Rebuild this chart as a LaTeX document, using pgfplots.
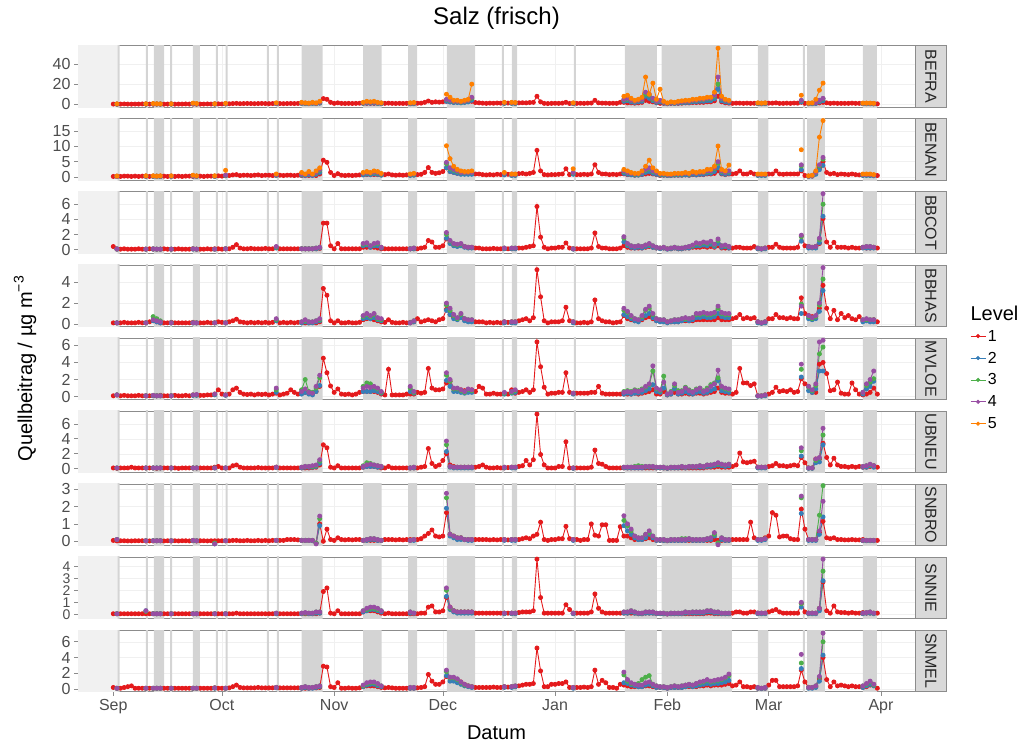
\documentclass[border=0pt]{standalone}
\usepackage{pgfplots}
\pgfplotsset{compat=1.18}
\usepackage{pgfplotstable}
\usepackage{fontspec}
\setmainfont{Liberation Sans}
\definecolor{c1}{HTML}{E41A1C}
\definecolor{c2}{HTML}{377EB8}
\definecolor{c3}{HTML}{4DAF4A}
\definecolor{c4}{HTML}{984EA3}
\definecolor{c5}{HTML}{FF7F00}
\definecolor{bandgray}{HTML}{D4D4D4}
\definecolor{leftgray}{HTML}{F1F1F1}
\definecolor{stripgray}{HTML}{D9D9D9}
\definecolor{bordergray}{HTML}{8C8C8C}
\definecolor{ticktext}{HTML}{4D4D4D}
\newcommand\fs[1]{\fontsize{#1}{#1}\selectfont}

\pgfplotstableread{
x y
1.2 -100
1.2 100
1.75 100
1.75 -100
nan nan
9.0 -100
9.0 100
9.55 100
9.55 -100
nan nan
11.2 -100
11.2 100
14.0 100
14.0 -100
nan nan
15.7 -100
15.7 100
16.25 100
16.25 -100
nan nan
22.0 -100
22.0 100
23.9 100
23.9 -100
nan nan
28.3 -100
28.3 100
28.85 100
28.85 -100
nan nan
31.0 -100
31.0 100
31.55 100
31.55 -100
nan nan
42.4 -100
42.4 100
42.95 100
42.95 -100
nan nan
45.2 -100
45.2 100
45.75 100
45.75 -100
nan nan
52.0 -100
52.0 100
57.8 100
57.8 -100
nan nan
69.0 -100
69.0 100
74.1 100
74.1 -100
nan nan
81.4 -100
81.4 100
83.9 100
83.9 -100
nan nan
92.1 -100
92.1 100
99.9 100
99.9 -100
nan nan
107.3 -100
107.3 100
107.85 100
107.85 -100
nan nan
110.1 -100
110.1 100
111.5 100
111.5 -100
nan nan
127.2 -100
127.2 100
127.75 100
127.75 -100
nan nan
141.3 -100
141.3 100
150.1 100
150.1 -100
nan nan
151.4 -100
151.4 100
170.8 100
170.8 -100
nan nan
178.0 -100
178.0 100
180.8 100
180.8 -100
nan nan
190.4 -100
190.4 100
190.95 100
190.95 -100
nan nan
191.6 -100
191.6 100
196.5 100
196.5 -100
nan nan
207.0 -100
207.0 100
210.9 100
210.9 -100
}\bandtab

\pgfplotstableread{
d A B C D E F G H I
0 0.3 0.2 0.4 0.1 0.1 0.1 0.05 0.05 0.2
1 0.2 0.3 0.05 0.1 0.2 0.05 0.02 0.05 0.1
2 0.3 0.2 0.05 0.1 0.1 0.1 0.03 0.05 0.1
3 0.4 0.3 0.1 0.15 0.15 0.1 0.03 0.05 0.2
4 0.3 0.3 0.05 0.1 0.1 0.1 0.02 0.05 0.3
5 0.2 0.2 0.05 0.1 0.1 0.2 0.02 0.05 0.4
6 0.3 0.3 0.05 0.1 0.1 0.1 0.03 0.05 0.1
7 0.3 0.2 0.1 0.15 0.15 0.1 0.03 0.05 0.1
8 0.4 0.3 0.05 0.1 0.1 0.1 0.03 0.05 0.1
9 0.3 0.3 0.05 0.1 0.1 0.1 0.02 0.05 0.1
10 0.3 0.2 0.1 0.2 0.1 0.1 0.02 0.05 0.1
11 0.2 0.3 0.05 0.3 0.1 0.1 0.02 0.05 0.1
12 0.3 0.3 0.05 0.2 0.1 0.05 0.03 0.05 0.1
13 0.3 0.2 0.05 0.1 0.15 0.1 0.03 0.05 0.1
14 0.2 0.3 0.1 0.1 0.1 0.1 0.02 0.05 0.1
15 0.3 0.2 0.05 0.1 0.1 0.1 0.03 0.05 0.1
16 0.3 0.3 0.05 0.15 0.1 0.1 0.02 0.05 0.1
17 0.2 0.2 0.05 0.1 0.15 0.1 0.03 0.05 0.1
18 0.3 0.3 0.1 0.1 0.1 0.05 0.02 0.05 0.1
19 0.3 0.2 0.05 0.1 0.1 0.1 0.03 0.05 0.1
20 0.4 0.3 0.05 0.1 0.15 0.1 0.03 0.05 0.1
21 0.3 0.3 0.05 0.1 0.1 0.1 0.02 0.05 0.1
22 0.3 0.2 0.1 0.15 0.2 0.1 0.03 0.05 0.1
23 0.2 0.3 0.05 0.1 0.2 0.1 0.02 0.05 0.1
24 0.3 0.3 0.05 0.1 0.15 0.1 0.03 0.05 0.1
25 0.3 0.2 0.05 0.1 0.15 0.1 0.03 0.05 0.1
26 0.4 0.3 0.1 0.15 0.2 0.1 0.02 0.05 0.1
27 0.3 0.3 0.05 0.1 0.2 0.1 0.03 0.05 0.1
28 0.4 0.3 0.1 0.1 0.3 0.2 0.03 0.05 0.15
29 0.5 0.4 0.1 0.2 0.8 0.3 0.03 0.05 0.1
30 0.4 0.3 0.05 0.15 0.3 0.1 0.03 0.05 0.1
31 0.6 0.6 0.1 0.1 0.2 0.1 0.03 0.05 0.1
32 0.6 0.5 0.1 0.2 0.3 0.1 0.03 0.05 0.15
33 0.8 0.7 0.3 0.3 0.8 0.4 0.05 0.05 0.3
34 1.0 0.8 0.65 0.45 1.0 0.5 0.05 0.1 0.5
35 0.7 0.5 0.2 0.2 0.5 0.2 0.03 0.05 0.2
36 0.8 0.6 0.1 0.15 0.3 0.1 0.03 0.05 0.15
37 0.9 0.6 0.1 0.1 0.25 0.1 0.05 0.05 0.15
38 0.8 0.5 0.15 0.15 0.3 0.1 0.03 0.05 0.15
39 0.7 0.6 0.1 0.1 0.2 0.1 0.03 0.05 0.15
40 0.8 0.7 0.1 0.15 0.3 0.15 0.05 0.05 0.2
41 0.9 0.5 0.1 0.1 0.25 0.1 0.03 0.05 0.15
42 0.8 0.6 0.15 0.15 0.3 0.1 0.05 0.05 0.15
43 0.7 0.6 0.1 0.1 0.2 0.1 0.03 0.05 0.15
44 0.8 0.5 0.1 0.15 0.3 0.1 0.05 0.05 0.15
45 0.9 0.7 0.3 0.3 0.4 0.2 0.05 0.05 0.2
46 0.8 0.6 0.1 0.1 0.2 0.1 0.05 0.05 0.15
47 0.7 0.5 0.1 0.15 0.3 0.1 0.05 0.05 0.15
48 0.8 0.6 0.1 0.1 0.4 0.1 0.1 0.05 0.15
49 0.9 0.6 0.1 0.15 0.8 0.1 0.1 0.05 0.15
50 0.8 0.5 0.1 0.1 0.5 0.1 0.1 0.05 0.15
51 0.9 0.6 0.1 0.15 0.3 0.1 0.08 0.05 0.15
52 1.0 0.5 0.1 0.1 0.4 0.1 0.05 0.05 0.1
53 1.0 0.5 0.1 0.1 0.5 0.1 0.05 0.05 0.1
54 1.0 0.5 0.1 0.1 0.4 0.1 0.05 0.05 0.1
55 1.2 0.6 0.1 0.15 0.4 0.15 0.05 0.05 0.15
56 1.0 0.5 0.1 0.1 0.6 0.2 -0.1 0.05 0.15
57 1.5 1.0 0.15 0.2 1.2 0.5 1.0 0.1 0.2
58 5.7 5.5 3.5 3.4 4.5 3.2 0.0 1.9 2.9
59 5.0 4.8 3.5 2.75 2.8 2.8 0.7 2.2 2.8
60 2.0 1.5 0.5 0.3 1.25 0.2 0.1 0.1 0.3
61 1.0 0.5 0.1 0.1 0.5 0.1 0.05 0.05 0.2
62 1.5 1.1 0.8 0.3 0.9 0.4 0.2 0.3 0.8
63 1.0 0.6 0.1 0.1 0.3 0.1 0.1 0.05 0.1
64 0.9 0.5 0.1 0.1 0.25 0.1 0.08 0.05 0.1
65 1.0 0.6 0.1 0.15 0.3 0.1 0.1 0.05 0.15
66 0.9 0.5 0.1 0.1 0.2 0.1 0.08 0.05 0.1
67 1.0 0.6 0.1 0.1 0.3 0.1 0.1 0.05 0.1
68 1.1 0.7 0.1 0.15 0.5 0.1 0.1 0.05 0.15
69 1.0 0.8 0.3 0.4 0.6 0.2 0.05 0.2 0.3
70 1.0 0.8 0.3 0.5 0.6 0.3 0.05 0.3 0.4
71 1.0 0.8 0.3 0.5 0.6 0.3 0.05 0.3 0.4
72 1.0 0.8 0.3 0.4 0.6 0.3 0.05 0.3 0.4
73 1.0 0.8 0.2 0.3 0.5 0.2 0.05 0.2 0.3
74 0.9 0.7 0.1 0.2 0.3 0.1 0.05 0.1 0.2
75 1.0 0.8 0.1 0.15 0.2 0.1 0.1 0.05 0.15
76 1.2 1.0 0.1 0.4 3.2 0.3 0.1 0.1 0.2
77 1.0 0.7 0.1 0.15 0.2 0.1 0.1 0.05 0.15
78 0.9 0.6 0.1 0.1 0.2 0.1 0.08 0.05 0.1
79 1.0 0.7 0.1 0.1 0.2 0.1 0.1 0.05 0.1
80 0.9 0.6 0.1 0.15 0.2 0.1 0.08 0.05 0.1
81 1.0 0.7 0.1 0.1 0.3 0.1 0.1 0.05 0.1
82 1.0 0.7 0.1 0.15 0.3 0.1 0.1 0.05 0.1
83 1.0 0.7 0.1 0.2 0.3 0.1 0.1 0.05 0.1
84 1.1 0.8 0.1 0.5 0.5 0.1 0.1 0.05 0.15
85 1.2 0.9 0.2 0.2 0.4 0.2 0.15 0.1 0.2
86 2.0 1.5 0.3 0.3 0.5 0.3 0.3 0.1 0.3
87 3.3 3.1 1.2 0.4 3.3 2.7 0.45 0.6 1.85
88 2.0 1.5 1.0 0.3 1.0 0.7 0.65 0.7 1.0
89 2.5 1.2 0.3 0.2 0.8 0.3 0.3 0.2 0.6
90 2.2 1.4 0.3 0.4 0.8 0.5 0.25 0.2 0.6
91 2.5 1.8 0.5 0.5 0.9 1.1 0.3 0.3 0.9
92 3.0 3.0 1.4 1.4 1.6 2.0 1.65 1.4 1.6
93 2.5 1.8 0.9 0.9 1.8 0.5 0.4 0.6 1.4
94 2.0 1.5 0.6 0.6 0.9 0.3 0.3 0.3 1.3
95 2.2 1.2 0.5 0.5 0.8 0.2 0.2 0.2 1.0
96 2.0 1.3 0.6 0.7 0.8 0.2 0.2 0.2 0.9
97 2.5 1.5 0.4 0.4 0.7 0.2 0.1 0.2 0.6
98 2.8 1.3 0.3 0.3 0.6 0.2 0.1 0.2 0.4
99 3.0 1.4 0.3 0.3 0.8 0.2 0.1 0.2 0.3
100 1.8 1.0 0.2 0.2 0.6 0.2 0.1 0.1 0.2
101 1.5 1.0 0.2 0.2 1.2 0.3 0.1 0.1 0.2
102 1.2 0.8 0.1 0.2 1.0 0.5 0.1 0.1 0.2
103 1.0 0.7 0.1 0.1 0.3 0.2 0.1 0.1 0.2
104 1.2 0.8 0.1 0.15 0.3 0.1 0.08 0.1 0.2
105 1.1 0.7 0.15 0.1 0.4 0.1 0.1 0.1 0.25
106 1.3 0.9 0.1 0.15 0.3 0.15 0.08 0.1 0.2
107 1.2 0.8 0.1 0.1 0.3 0.1 0.1 0.1 0.2
108 1.4 1.0 0.15 0.2 0.4 0.1 0.1 0.1 0.3
109 1.3 0.9 0.1 0.15 0.3 0.15 0.08 0.1 0.25
110 1.5 1.0 0.1 0.2 0.8 0.2 0.1 0.1 0.3
111 1.4 0.9 0.15 0.2 0.4 0.15 0.1 0.1 0.3
112 1.5 1.1 0.2 0.3 0.5 0.3 0.1 0.15 0.4
113 1.6 1.2 0.2 0.4 0.6 0.4 0.15 0.2 0.5
114 1.5 1.0 0.3 0.5 0.8 1.1 0.2 0.2 0.6
115 1.8 1.2 0.4 0.3 0.5 0.5 0.15 0.2 0.6
116 2.0 1.5 0.5 0.6 0.8 1.2 0.3 0.3 0.7
117 8.0 8.7 5.7 5.2 6.4 7.3 0.4 4.6 5.2
118 2.5 2.0 1.65 2.6 3.5 1.9 1.1 1.4 2.3
119 1.0 0.8 0.3 0.3 1.1 0.5 0.1 0.1 0.3
120 0.8 0.7 0.1 0.1 0.3 0.1 0.05 0.1 0.3
121 1.0 0.8 0.2 0.2 0.4 0.1 0.1 0.1 0.6
122 1.1 0.8 0.2 0.2 0.4 0.1 0.1 0.1 0.6
123 1.0 0.9 0.3 0.2 0.5 0.3 0.15 0.1 0.7
124 1.2 1.0 0.3 0.3 0.5 0.3 0.15 0.1 0.7
125 2.0 2.7 0.87 1.6 2.8 3.6 0.86 0.8 0.9
126 0.9 0.8 0.2 0.3 0.5 0.1 0.15 0.4 0.2
127 1.0 1.3 0.1 0.2 0.4 0.1 0.1 0.1 0.2
128 1.0 0.8 0.1 0.1 0.4 0.1 0.1 0.1 0.2
129 1.1 0.8 0.1 0.1 0.4 0.1 0.05 0.1 0.2
130 1.0 0.9 0.1 0.15 0.4 0.1 0.1 0.1 0.25
131 1.2 0.8 0.1 0.1 0.4 0.1 0.1 0.1 0.2
132 1.3 1.0 0.2 0.2 0.5 0.2 1.0 0.2 0.3
133 4.0 4.0 2.2 2.3 0.5 2.5 0.35 1.7 2.4
134 1.5 1.5 0.4 0.5 1.2 0.7 0.3 0.5 0.6
135 1.2 1.0 0.2 0.3 0.4 0.6 0.95 0.2 1.1
136 1.2 1.0 0.2 0.2 0.3 0.3 0.95 0.1 0.8
137 1.0 0.8 0.1 0.2 0.3 0.1 0.05 0.1 0.2
138 1.1 0.9 0.1 0.1 0.3 0.1 0.05 0.1 0.2
139 1.0 0.8 0.1 0.15 0.3 0.1 0.05 0.1 0.1
140 2.0 1.0 0.2 0.2 0.3 0.1 0.84 0.1 0.6
141 2.0 1.0 0.5 0.8 0.3 0.1 0.3 0.1 0.5
142 1.5 0.8 0.3 0.5 0.3 0.1 0.3 0.1 0.4
143 1.5 0.8 0.2 0.4 0.3 0.1 0.2 0.1 0.3
144 1.2 0.6 0.2 0.3 0.4 0.1 0.1 0.1 0.3
145 1.5 0.7 0.2 0.3 0.3 0.1 0.1 0.05 0.3
146 2.0 0.8 0.2 0.4 0.4 0.1 0.1 0.05 0.3
147 4.0 1.0 0.3 0.6 0.5 0.1 0.15 0.1 0.4
148 3.0 1.2 0.4 0.7 0.6 0.1 0.2 0.1 0.4
149 2.5 1.0 0.3 0.5 0.8 0.1 0.1 0.1 0.3
150 1.5 0.8 0.2 0.3 0.3 0.1 0.05 0.05 0.2
151 1.0 0.5 0.2 0.3 0.3 0.1 0.05 0.05 0.2
152 1.0 0.6 0.2 0.3 0.6 0.1 0.05 0.05 0.2
153 0.8 0.5 0.1 0.2 0.2 0.05 0.03 0.03 0.1
154 1.0 0.5 0.1 0.2 0.3 0.1 0.05 0.05 0.2
155 1.0 0.6 0.2 0.2 0.5 0.1 0.05 0.05 0.2
156 1.0 0.6 0.1 0.2 0.3 0.1 0.05 0.05 0.2
157 1.2 0.6 0.1 0.3 0.3 0.1 0.05 0.05 0.2
158 1.5 0.7 0.2 0.3 0.4 0.1 0.05 0.05 0.3
159 1.5 0.6 0.2 0.3 0.3 0.1 0.05 0.05 0.3
160 1.8 0.8 0.3 0.3 0.3 0.1 0.05 0.05 0.3
161 1.8 0.7 0.3 0.4 0.4 0.1 0.05 0.05 0.3
162 2.0 0.8 0.3 0.4 0.4 0.1 0.05 0.05 0.4
163 2.0 0.8 0.4 0.4 0.3 0.1 0.05 0.05 0.4
164 2.5 1.0 0.3 0.4 0.4 0.2 0.05 0.1 0.5
165 2.5 1.0 0.4 0.4 0.5 0.2 0.05 0.1 0.4
166 3.5 1.2 0.3 0.4 0.6 0.2 0.1 0.05 0.5
167 8.0 2.0 0.5 0.6 1.0 0.3 0.05 0.05 0.5
168 2.5 1.0 0.2 0.4 0.5 0.2 0.05 0.05 0.5
169 1.5 0.8 0.2 0.4 0.4 0.2 0.05 0.05 0.6
170 1.2 1.0 0.2 0.4 0.4 0.2 0.05 0.05 0.7
171 1.0 1.0 0.2 0.5 0.3 0.3 0.1 0.1 0.4
172 1.2 1.2 0.3 0.6 0.5 0.5 0.1 0.2 0.5
173 1.2 2.0 0.3 0.9 3.3 2.1 0.1 0.2 0.9
174 1.0 1.0 0.2 0.5 1.6 0.9 0.1 0.1 0.3
175 1.2 1.0 0.2 0.6 1.6 0.8 0.1 0.1 0.3
176 1.0 1.5 0.2 0.5 1.3 0.9 1.1 0.2 0.2
177 1.1 1.0 0.4 0.6 1.5 1.0 0.2 0.2 0.3
178 1.0 0.8 0.1 0.2 0.1 0.2 0.1 0.1 0.1
179 1.0 0.8 0.1 0.1 0.1 0.2 0.1 0.1 0.1
180 1.1 0.8 0.2 0.2 0.2 0.2 0.2 0.1 0.1
181 1.2 1.0 0.3 0.5 0.3 0.3 0.3 0.2 0.5
182 1.2 1.0 0.3 0.5 0.5 0.4 1.65 0.3 1.1
183 1.5 2.0 0.7 0.9 1.1 0.7 1.5 0.4 1.1
184 1.0 1.0 0.3 0.6 0.6 0.4 0.25 0.2 0.3
185 1.0 0.9 0.2 0.6 0.7 0.4 0.3 0.1 0.3
186 1.2 1.0 0.2 0.5 0.6 0.3 0.3 0.1 0.3
187 1.0 1.0 0.2 0.6 0.8 0.4 0.15 0.1 0.3
188 1.3 1.0 0.2 0.5 0.5 0.5 0.1 0.1 0.3
189 1.2 1.0 0.3 0.5 0.6 0.4 0.1 0.1 0.4
190 2.0 2.0 1.8 2.5 2.1 1.5 1.85 0.9 2.4
191 1.0 0.5 0.5 1.0 1.5 0.8 0.7 0.2 0.9
192 1.0 0.3 0.4 0.8 1.2 0.1 0.1 0.1 0.2
193 1.0 0.3 0.3 0.7 0.5 0.1 0.1 0.1 0.2
194 1.0 1.5 0.4 0.7 0.5 1.3 0.1 0.1 0.3
195 1.5 3.0 0.8 1.5 3.8 1.3 0.5 0.5 1.3
196 2.0 5.0 4.1 3.7 4.0 3.4 1.15 2.7 4.0
197 1.5 1.5 1.0 1.5 2.7 1.5 0.2 0.3 1.2
198 1.0 1.0 0.3 0.5 0.7 0.5 0.15 0.1 0.3
199 1.2 1.2 0.95 1.3 0.8 1.4 0.2 0.7 0.9
200 1.0 0.8 0.3 0.4 1.7 0.5 0.1 0.2 0.4
201 1.0 1.0 0.3 1.0 0.4 0.3 0.1 0.15 0.5
202 1.0 0.9 0.3 0.6 0.3 0.3 0.08 0.15 0.4
203 1.0 0.8 0.2 0.8 0.3 0.2 0.08 0.1 0.3
204 1.2 1.0 0.3 0.5 1.6 0.3 0.1 0.15 0.4
205 1.0 0.8 0.2 0.4 0.8 0.2 0.08 0.1 0.3
206 1.0 0.7 0.2 0.7 0.3 0.3 0.08 0.1 0.3
207 1.0 0.8 0.3 0.3 0.2 0.2 0.1 0.15 0.2
208 1.0 0.7 0.2 0.4 0.3 0.2 0.05 0.1 0.3
209 0.8 0.6 0.2 0.3 0.5 0.3 0.05 0.1 0.5
210 0.8 0.6 0.3 0.4 1.0 0.4 0.05 0.1 0.6
211 0.5 0.5 0.2 0.2 0.3 0.2 0.05 0.1 0.1
}\redtab

\pgfplotstableread{
d A B C D E F G H I
1 0.2 0.2 0.05 0.1 0.2 0.1 0.1 0.05 0.1
nan nan nan nan nan nan nan nan nan nan
9 0.3 0.2 0.05 0.1 0.1 0.1 0.03 0.3 0.1
nan nan nan nan nan nan nan nan nan nan
11 0.4 0.2 0.05 0.3 0.1 0.1 0.03 0.05 0.1
12 0.3 0.2 0.05 0.2 0.1 0.1 0.03 0.05 0.1
13 0.3 0.2 0.05 0.1 0.1 0.1 0.03 0.05 0.1
nan nan nan nan nan nan nan nan nan nan
16 0.3 0.2 0.05 0.1 0.1 0.1 0.03 0.05 0.1
nan nan nan nan nan nan nan nan nan nan
22 0.5 0.3 0.05 0.1 0.15 0.1 0.03 0.05 0.1
23 0.4 0.2 0.05 0.1 0.15 0.1 0.03 0.05 0.1
nan nan nan nan nan nan nan nan nan nan
28 0.3 0.2 0.05 0.1 0.2 0.1 -0.15 0.05 0.1
nan nan nan nan nan nan nan nan nan nan
31 0.5 0.4 0.1 0.1 0.15 0.1 0.03 0.05 0.1
nan nan nan nan nan nan nan nan nan nan
45 0.6 0.5 0.2 0.3 0.5 0.15 0.05 0.05 0.15
nan nan nan nan nan nan nan nan nan nan
52 1.0 0.6 0.1 0.1 0.3 0.1 0.05 0.05 0.1
53 0.8 0.5 0.1 0.2 0.5 0.2 0.05 0.1 0.2
54 0.7 0.7 0.1 0.1 0.3 0.2 0.05 0.05 0.1
55 1.0 0.5 0.1 0.1 0.2 0.2 0.03 0.05 0.1
56 0.7 0.9 0.1 0.2 0.6 0.3 -0.1 0.1 0.2
57 1.2 1.5 0.2 0.3 1.3 0.7 0.9 0.1 0.3
nan nan nan nan nan nan nan nan nan nan
69 1.0 0.7 0.5 0.5 0.6 0.2 0.05 0.2 0.3
70 1.2 0.9 0.6 0.6 0.6 0.3 0.05 0.3 0.5
71 1.1 0.8 0.3 0.5 0.6 0.3 0.1 0.4 0.6
72 1.2 1.0 0.5 0.6 0.7 0.3 0.1 0.4 0.6
73 0.9 0.9 0.5 0.4 0.6 0.2 0.05 0.3 0.4
74 0.7 0.6 0.2 0.3 0.4 0.2 0.05 0.2 0.3
nan nan nan nan nan nan nan nan nan nan
82 0.6 0.5 0.1 0.1 0.6 0.1 0.05 0.1 0.1
83 0.7 0.6 0.1 0.2 0.4 0.1 0.05 0.1 0.1
nan nan nan nan nan nan nan nan nan nan
92 3.0 3.0 1.5 1.3 1.9 2.3 1.9 1.5 1.7
93 2.4 1.8 0.8 0.9 1.2 0.2 0.3 0.4 1.0
94 1.8 1.5 0.5 0.5 0.6 0.1 0.2 0.2 1.0
95 1.8 1.2 0.4 0.4 0.6 0.1 0.1 0.1 0.8
96 1.5 0.9 0.5 0.6 0.5 0.1 0.1 0.1 0.6
97 1.8 0.9 0.3 0.3 0.4 0.1 0.1 0.1 0.4
98 2.4 0.9 0.2 0.2 0.5 0.1 0.05 0.1 0.3
99 4.0 0.9 0.2 0.2 0.5 0.1 0.05 0.1 0.2
nan nan nan nan nan nan nan nan nan nan
108 0.9 0.7 0.1 0.1 0.3 0.1 0.05 0.05 0.2
nan nan nan nan nan nan nan nan nan nan
110 0.9 0.5 0.1 0.1 0.4 0.1 0.05 0.05 0.2
111 0.8 0.5 0.1 0.1 0.5 0.1 0.05 0.05 0.3
nan nan nan nan nan nan nan nan nan nan
127 0.7 0.9 0.05 0.1 0.3 0.05 0.05 0.05 0.1
nan nan nan nan nan nan nan nan nan nan
141 3.0 1.2 1.0 0.9 0.3 0.1 0.9 0.1 0.8
142 3.6 0.9 0.5 0.7 0.4 0.1 0.6 0.1 0.7
143 2.4 0.7 0.3 0.5 0.3 0.1 0.4 0.2 0.5
144 1.8 0.6 0.2 0.3 0.4 0.1 0.2 0.1 0.4
145 2.4 0.6 0.3 0.2 0.4 0.1 0.1 0.05 0.3
146 3.0 0.9 0.2 0.5 0.5 0.1 0.1 0.05 0.3
147 8.0 1.5 0.4 0.8 0.7 0.2 0.2 0.1 0.5
148 6.0 1.8 0.5 1.0 0.9 0.2 0.4 0.1 0.6
149 3.6 1.2 0.3 0.6 1.4 0.2 0.2 0.1 0.4
150 1.8 0.9 0.2 0.3 0.6 0.1 0.05 0.05 0.2
151 2.4 0.6 0.1 0.2 0.5 0.1 0.05 0.05 0.2
152 1.2 0.6 0.2 0.2 1.0 0.1 0.05 0.05 0.2
153 0.6 0.5 0.05 0.1 0.2 0.05 0.03 0.03 0.1
154 1.2 0.5 0.1 0.2 0.3 0.1 0.05 0.05 0.2
155 0.9 0.6 0.2 0.2 0.9 0.1 0.05 0.05 0.2
156 1.2 0.6 0.1 0.2 0.3 0.1 0.05 0.05 0.2
157 1.5 0.6 0.1 0.3 0.4 0.2 0.05 0.05 0.2
158 1.8 0.7 0.2 0.4 0.6 0.1 0.05 0.1 0.3
159 1.8 0.6 0.2 0.3 0.4 0.2 0.1 0.1 0.4
160 2.4 0.9 0.4 0.4 0.3 0.2 0.05 0.1 0.3
161 2.4 0.7 0.5 0.6 0.5 0.2 0.05 0.1 0.4
162 3.0 0.9 0.5 0.6 0.6 0.2 0.05 0.1 0.5
163 3.0 0.9 0.6 0.7 0.4 0.2 0.05 0.1 0.6
164 3.6 1.2 0.5 0.6 0.5 0.3 0.1 0.2 0.7
165 3.6 1.2 0.7 0.6 0.7 0.3 0.1 0.2 0.6
166 5.4 1.8 0.4 0.7 0.9 0.4 0.3 0.1 0.7
167 15 3.0 0.8 1.0 1.9 0.5 -0.1 0.1 0.7
168 3.6 1.2 0.3 0.7 0.7 0.4 0.1 0.05 0.8
169 2.4 0.9 0.4 0.6 0.6 0.3 0.05 0.05 0.9
170 1.8 1.2 0.2 0.6 0.5 0.4 0.05 0.05 1.1
nan nan nan nan nan nan nan nan nan nan
178 0.7 0.5 0.1 0.1 0.05 0.1 0.05 0.05 0.1
179 0.6 0.5 0.05 0.05 0.05 0.1 0.05 0.05 0.05
180 0.7 0.5 0.1 0.1 0.1 0.1 0.1 0.05 0.1
nan nan nan nan nan nan nan nan nan nan
190 2.4 2.4 1.1 1.0 2.3 1.7 1.6 0.6 2.6
nan nan nan nan nan nan nan nan nan nan
192 0.6 0.2 0.2 0.5 0.7 0.05 0.05 0.05 0.1
193 0.7 0.3 0.2 0.4 0.5 0.05 0.05 0.05 0.1
194 0.9 0.9 0.2 0.5 0.9 0.8 0.05 0.05 0.2
195 2.4 2.4 0.9 1.2 3.0 0.9 0.4 0.3 1.0
196 3.6 3.8 4.4 3.2 3.0 3.2 1.4 2.8 4.3
nan nan nan nan nan nan nan nan nan nan
207 0.6 0.5 0.2 0.2 0.3 0.2 0.03 0.05 0.2
208 0.6 0.5 0.2 0.3 0.9 0.2 0.03 0.1 0.4
209 0.6 0.5 0.2 0.2 1.2 0.4 0.03 0.1 0.6
210 0.5 0.4 0.2 0.2 1.8 0.2 0.03 0.05 0.4
}\ltwo

\pgfplotstableread{
d A B C D E F G H I
1 0.3 0.2 0.1 0.1 0.2 0.1 0.1 0.05 0.1
nan nan nan nan nan nan nan nan nan nan
9 0.4 0.3 0.05 0.1 0.1 0.1 0.03 0.25 0.1
nan nan nan nan nan nan nan nan nan nan
11 0.5 0.3 0.1 0.7 0.15 0.1 0.03 0.05 0.1
12 0.4 0.3 0.05 0.5 0.1 0.1 0.03 0.05 0.1
13 0.3 0.3 0.05 0.3 0.1 0.1 0.03 0.05 0.1
nan nan nan nan nan nan nan nan nan nan
16 0.3 0.3 0.05 0.1 0.1 0.1 0.03 0.05 0.1
nan nan nan nan nan nan nan nan nan nan
22 0.7 0.4 0.1 0.1 0.2 0.1 0.05 0.05 0.1
23 0.5 0.3 0.05 0.1 0.2 0.1 0.03 0.05 0.1
nan nan nan nan nan nan nan nan nan nan
28 0.4 0.3 0.05 0.1 0.3 0.1 -0.1 0.05 0.15
nan nan nan nan nan nan nan nan nan nan
31 0.6 0.5 0.1 0.1 0.2 0.1 0.03 0.05 0.1
nan nan nan nan nan nan nan nan nan nan
45 0.8 0.6 0.3 0.4 0.8 0.2 0.05 0.1 0.2
nan nan nan nan nan nan nan nan nan nan
52 1.3 0.9 0.1 0.2 0.8 0.2 0.05 0.1 0.2
53 1.1 0.8 0.1 0.3 2.0 0.3 0.05 0.1 0.3
54 0.9 1.0 0.1 0.2 0.6 0.3 0.05 0.1 0.2
55 1.3 0.8 0.1 0.2 0.5 0.3 0.05 0.1 0.2
56 0.9 1.3 0.2 0.3 1.0 0.4 -0.1 0.2 0.3
57 1.8 2.2 0.3 0.4 2.2 1.0 1.3 0.2 0.4
nan nan nan nan nan nan nan nan nan nan
69 1.3 1.1 0.7 0.7 1.2 0.4 0.05 0.3 0.4
70 1.8 1.3 0.8 0.9 1.6 0.8 0.1 0.4 0.7
71 1.6 1.2 0.5 0.7 1.5 0.7 0.15 0.5 0.8
72 1.8 1.4 0.7 0.9 1.1 0.5 0.15 0.5 0.8
73 1.3 1.3 0.8 0.5 0.9 0.4 0.1 0.4 0.6
74 1.1 0.9 0.3 0.4 0.5 0.3 0.05 0.3 0.4
nan nan nan nan nan nan nan nan nan nan
82 0.9 0.7 0.1 0.1 1.0 0.1 0.05 0.2 0.2
83 1.1 0.9 0.2 0.3 0.5 0.2 0.1 0.1 0.2
nan nan nan nan nan nan nan nan nan nan
92 4.5 4.3 2.0 1.8 2.5 3.2 2.5 2.0 2.2
93 3.6 2.7 1.1 1.3 1.8 0.3 0.4 0.5 1.4
94 2.7 2.2 0.7 0.8 0.9 0.2 0.3 0.3 1.4
95 2.7 1.8 0.6 0.5 0.9 0.2 0.2 0.2 1.2
96 2.2 1.4 0.7 0.9 0.7 0.2 0.2 0.2 0.8
97 2.7 1.4 0.4 0.5 0.5 0.2 0.1 0.2 0.5
98 3.6 1.4 0.3 0.4 0.8 0.2 0.1 0.2 0.4
99 6.0 1.4 0.3 0.4 0.7 0.2 0.1 0.2 0.3
nan nan nan nan nan nan nan nan nan nan
108 1.3 1.1 0.2 0.2 0.4 0.2 0.1 0.1 0.3
nan nan nan nan nan nan nan nan nan nan
110 1.3 0.7 0.2 0.2 0.5 0.2 0.1 0.1 0.3
111 1.2 0.7 0.2 0.2 0.7 0.2 0.1 0.1 0.4
nan nan nan nan nan nan nan nan nan nan
127 1.1 1.3 0.1 0.2 0.4 0.1 0.1 0.1 0.2
nan nan nan nan nan nan nan nan nan nan
141 4.5 1.8 1.5 1.3 0.6 0.2 1.2 0.2 1.8
142 5.0 1.4 0.7 1.1 0.7 0.2 0.9 0.2 1.0
143 3.6 1.1 0.5 0.7 0.6 0.2 0.6 0.3 0.7
144 2.7 0.9 0.4 0.5 0.8 0.3 0.3 0.2 0.6
145 3.6 0.9 0.5 0.4 0.7 0.4 0.2 0.1 0.7
146 4.5 1.4 0.4 0.7 0.9 0.3 0.2 0.1 1.2
147 10 2.2 0.6 1.3 1.1 0.3 0.4 0.2 1.5
148 9.0 2.7 0.7 1.5 1.4 0.3 0.5 0.2 1.7
149 5.0 1.8 0.5 0.9 3.0 0.3 0.3 0.2 0.6
150 2.7 1.4 0.3 0.5 0.9 0.2 0.1 0.1 0.4
151 3.6 0.9 0.2 0.4 0.7 0.2 0.1 0.1 0.3
152 1.8 0.9 0.3 0.4 2.4 0.2 0.1 0.1 0.3
153 0.9 0.7 0.1 0.2 0.3 0.1 0.05 0.05 0.2
154 1.8 0.7 0.2 0.3 0.6 0.2 0.1 0.1 0.3
155 1.4 0.9 0.3 0.4 1.3 0.2 0.1 0.1 0.4
156 1.8 0.9 0.2 0.4 0.7 0.2 0.1 0.1 0.3
157 2.2 0.9 0.2 0.5 0.7 0.3 0.15 0.1 0.4
158 2.7 1.1 0.3 0.5 1.1 0.2 0.15 0.2 0.5
159 2.7 0.9 0.4 0.5 0.8 0.3 0.15 0.15 0.6
160 3.6 1.4 0.5 0.6 0.6 0.3 0.1 0.2 0.5
161 3.6 1.1 0.8 0.9 0.9 0.3 0.1 0.2 0.7
162 4.5 1.4 0.7 0.9 1.0 0.4 0.1 0.2 0.8
163 4.5 1.4 0.9 1.0 0.7 0.3 0.1 0.2 0.9
164 5.4 1.8 0.8 0.9 1.0 0.5 0.15 0.3 1.1
165 5.4 1.8 1.0 0.9 1.4 0.5 0.2 0.3 0.9
166 8.0 2.7 0.6 1.0 1.6 0.6 0.4 0.2 1.0
167 20 4.5 1.2 1.5 2.2 0.7 -0.1 0.2 1.1
168 5.4 1.8 0.5 1.0 1.1 0.6 0.2 0.1 1.2
169 3.6 1.4 0.5 0.9 0.9 0.5 0.1 0.1 1.4
170 2.7 1.8 0.4 0.9 0.8 0.6 0.1 0.1 1.7
nan nan nan nan nan nan nan nan nan nan
178 1.1 0.7 0.2 0.2 0.1 0.2 0.1 0.1 0.2
179 0.9 0.7 0.1 0.1 0.1 0.2 0.1 0.1 0.1
180 1.1 0.7 0.2 0.2 0.2 0.2 0.15 0.1 0.2
nan nan nan nan nan nan nan nan nan nan
190 3.6 3.6 1.7 1.9 3.2 2.4 2.5 0.9 3.3
nan nan nan nan nan nan nan nan nan nan
192 0.9 0.3 0.4 0.7 1.1 0.1 0.1 0.1 0.2
193 1.1 0.5 0.3 0.5 0.7 0.1 0.1 0.1 0.2
194 1.4 1.4 0.4 0.7 1.3 1.1 0.1 0.1 0.4
195 3.6 3.6 1.3 1.8 5.0 1.4 1.5 0.5 1.5
196 5.4 5.8 6.0 4.3 5.8 4.5 3.2 3.6 6.0
nan nan nan nan nan nan nan nan nan nan
207 0.9 0.7 0.3 0.4 0.5 0.3 0.05 0.1 0.4
208 0.9 0.7 0.4 0.4 1.3 0.4 0.05 0.15 0.6
209 0.9 0.7 0.4 0.4 1.7 0.5 0.05 0.2 0.9
210 0.7 0.6 0.3 0.4 2.1 0.4 0.05 0.1 0.5
}\lthree

\pgfplotstableread{
d A B C D E F G H I
1 0.3 0.2 0.1 0.1 0.2 0.1 0.1 0.05 0.1
nan nan nan nan nan nan nan nan nan nan
9 0.4 0.3 0.05 0.1 0.1 0.1 0.03 0.3 0.1
nan nan nan nan nan nan nan nan nan nan
11 0.5 0.3 0.1 0.4 0.15 0.1 0.03 0.05 0.1
12 0.4 0.3 0.05 0.3 0.1 0.1 0.03 0.05 0.1
13 0.3 0.3 0.05 0.2 0.1 0.1 0.03 0.05 0.1
nan nan nan nan nan nan nan nan nan nan
16 0.4 0.3 0.05 0.1 0.1 0.1 0.03 0.05 0.1
nan nan nan nan nan nan nan nan nan nan
22 0.8 0.4 0.1 0.1 0.2 0.1 0.05 0.05 0.1
23 0.5 0.3 0.05 0.1 0.25 0.1 0.03 0.05 0.1
nan nan nan nan nan nan nan nan nan nan
28 0.4 0.3 0.05 0.1 0.3 0.1 -0.15 0.05 0.15
nan nan nan nan nan nan nan nan nan nan
31 0.6 0.6 0.1 0.1 0.2 0.1 0.03 0.05 0.1
nan nan nan nan nan nan nan nan nan nan
45 0.9 0.7 0.4 0.5 1.0 0.2 0.05 0.1 0.2
nan nan nan nan nan nan nan nan nan nan
52 1.5 1.0 0.1 0.2 0.6 0.2 0.05 0.1 0.2
53 1.2 0.8 0.1 0.4 0.9 0.3 0.05 0.15 0.3
54 1.0 1.2 0.1 0.2 0.5 0.3 0.05 0.1 0.2
55 1.5 0.8 0.1 0.2 0.4 0.4 0.05 0.1 0.2
56 1.0 1.5 0.2 0.3 1.2 0.5 -0.15 0.2 0.3
57 2.0 2.5 0.3 0.5 2.5 1.2 1.45 0.2 0.4
nan nan nan nan nan nan nan nan nan nan
69 1.5 1.2 0.8 0.8 1.0 0.3 0.05 0.3 0.5
70 2.0 1.5 0.9 1.0 1.2 0.5 0.1 0.5 0.8
71 1.8 1.3 0.5 0.8 1.1 0.6 0.15 0.6 0.9
72 2.0 1.6 0.8 1.0 1.2 0.5 0.15 0.6 0.9
73 1.5 1.5 0.9 0.6 1.0 0.4 0.1 0.5 0.7
74 1.2 1.0 0.3 0.5 0.6 0.3 0.05 0.3 0.4
nan nan nan nan nan nan nan nan nan nan
82 1.0 0.8 0.1 0.1 1.2 0.1 0.05 0.2 0.2
83 1.2 1.0 0.2 0.3 0.6 0.2 0.1 0.1 0.2
nan nan nan nan nan nan nan nan nan nan
92 5.0 4.8 2.26 2.0 2.8 3.7 2.76 2.2 2.4
93 4.0 3.0 1.2 1.5 2.0 0.3 0.4 0.6 1.5
94 3.0 2.5 0.8 0.9 1.0 0.2 0.3 0.3 1.5
95 3.0 2.0 0.7 0.6 1.0 0.2 0.2 0.2 1.3
96 2.5 1.5 0.8 1.0 0.8 0.2 0.2 0.2 0.9
97 3.0 1.5 0.4 0.5 0.6 0.2 0.1 0.2 0.6
98 4.0 1.5 0.3 0.4 0.9 0.2 0.1 0.2 0.4
99 7.0 1.5 0.3 0.4 0.8 0.2 0.1 0.2 0.3
nan nan nan nan nan nan nan nan nan nan
108 1.5 1.2 0.2 0.2 0.5 0.2 0.1 0.1 0.3
nan nan nan nan nan nan nan nan nan nan
110 1.5 0.8 0.2 0.2 0.6 0.2 0.1 0.1 0.3
111 1.3 0.8 0.2 0.2 0.8 0.2 0.1 0.1 0.4
nan nan nan nan nan nan nan nan nan nan
127 1.2 1.5 0.1 0.2 0.4 0.1 0.1 0.1 0.2
nan nan nan nan nan nan nan nan nan nan
141 5.0 2.0 1.7 1.5 0.5 0.2 1.47 0.2 2.15
142 6.0 1.5 0.8 1.2 0.6 0.2 1.0 0.2 1.2
143 4.0 1.2 0.5 0.8 0.5 0.2 0.7 0.3 0.8
144 3.0 1.0 0.4 0.5 0.7 0.2 0.3 0.2 0.6
145 4.0 1.0 0.5 0.4 0.6 0.2 0.2 0.1 0.5
146 5.0 1.5 0.4 0.8 0.8 0.2 0.2 0.1 0.5
147 12 2.5 0.6 1.4 1.2 0.3 0.4 0.2 0.8
148 10 3.0 0.8 1.7 1.5 0.3 0.6 0.2 0.9
149 6.0 2.0 0.5 1.0 3.6 0.3 0.3 0.2 0.6
150 3.0 1.5 0.3 0.5 1.0 0.2 0.1 0.1 0.4
151 4.0 1.0 0.2 0.4 0.8 0.2 0.1 0.1 0.3
152 2.0 1.0 0.3 0.4 1.7 0.2 0.1 0.1 0.3
153 1.0 0.8 0.1 0.2 0.3 0.1 0.05 0.05 0.2
154 2.0 0.8 0.2 0.3 0.5 0.2 0.1 0.1 0.3
155 1.5 1.0 0.3 0.4 1.5 0.2 0.1 0.1 0.4
156 2.0 1.0 0.2 0.4 0.5 0.2 0.1 0.1 0.3
157 2.5 1.0 0.2 0.5 0.6 0.3 0.1 0.1 0.4
158 3.0 1.2 0.3 0.6 1.0 0.2 0.1 0.2 0.5
159 3.0 1.0 0.4 0.5 0.7 0.3 0.15 0.15 0.6
160 4.0 1.5 0.6 0.6 0.5 0.3 0.1 0.2 0.5
161 4.0 1.2 0.9 1.0 0.8 0.3 0.1 0.2 0.7
162 5.0 1.5 0.8 1.0 1.0 0.4 0.1 0.2 0.9
163 5.0 1.5 1.0 1.1 0.6 0.3 0.1 0.2 1.0
164 6.0 2.0 0.9 1.0 0.8 0.5 0.15 0.3 1.2
165 6.0 2.0 1.1 1.0 1.2 0.5 0.2 0.3 1.0
166 9.0 3.0 0.7 1.1 1.5 0.6 0.5 0.2 1.1
167 27 5.0 1.4 1.7 3.1 0.8 -0.2 0.2 1.2
168 6.0 2.0 0.5 1.1 1.2 0.6 0.2 0.1 1.3
169 4.0 1.5 0.6 1.0 1.0 0.5 0.1 0.1 1.5
170 3.0 2.0 0.4 1.0 0.9 0.6 0.1 0.1 1.9
nan nan nan nan nan nan nan nan nan nan
178 1.2 0.8 0.2 0.2 0.1 0.2 0.1 0.1 0.2
179 1.0 0.8 0.1 0.1 0.1 0.2 0.1 0.1 0.1
180 1.2 0.8 0.2 0.2 0.2 0.2 0.15 0.1 0.2
nan nan nan nan nan nan nan nan nan nan
190 4.0 4.0 1.9 1.7 3.8 2.8 2.6 1.0 4.4
nan nan nan nan nan nan nan nan nan nan
192 1.0 0.3 0.4 0.8 1.2 0.1 0.1 0.1 0.2
193 1.2 0.5 0.3 0.6 0.8 0.1 0.1 0.1 0.2
194 1.5 1.5 0.4 0.8 1.5 1.3 0.1 0.1 0.4
195 4.0 4.0 1.5 2.0 6.4 1.5 0.6 0.5 1.6
196 6.0 6.4 7.4 5.4 6.6 5.4 2.3 4.6 7.1
nan nan nan nan nan nan nan nan nan nan
207 1.0 0.8 0.3 0.4 0.5 0.3 0.05 0.1 0.4
208 1.0 0.8 0.4 0.5 1.5 0.4 0.05 0.15 0.7
209 1.0 0.8 0.4 0.4 2.0 0.6 0.05 0.2 1.0
210 0.8 0.6 0.3 0.4 3.0 0.4 0.05 0.1 0.6
}\lfour

\pgfplotstableread{
d A B
1 0.5 0.3
nan nan nan
9 0.6 0.4
nan nan nan
11 0.8 0.4
12 0.6 0.3
13 0.5 0.4
nan nan nan
16 0.6 0.4
nan nan nan
22 1.2 0.6
23 0.8 0.4
nan nan nan
28 0.6 0.4
nan nan nan
31 1.0 2.2
nan nan nan
45 1.5 1.0
nan nan nan
52 2.0 1.5
53 1.5 1.0
54 1.2 1.8
55 2.0 1.0
56 1.5 2.0
57 3.0 3.0
nan nan nan
69 2.0 1.5
70 3.0 1.8
71 2.5 1.5
72 3.0 2.0
73 2.0 1.8
74 1.5 1.2
nan nan nan
82 1.5 1.0
83 1.8 1.2
nan nan nan
92 10 10.2
93 7.0 6.0
94 4.0 3.5
95 4.0 2.5
96 3.0 2.0
97 4.0 1.8
98 5.0 1.8
99 20 2.0
nan nan nan
108 2.0 1.5
nan nan nan
110 2.0 1.0
111 1.8 1.0
nan nan nan
127 1.5 2.7
nan nan nan
141 8.0 2.5
142 9.0 2.0
143 6.0 1.5
144 4.0 1.2
145 5.0 1.2
146 7.0 2.0
147 27 3.5
148 10 5.5
149 21 3.0
150 5.0 2.0
151 15 1.2
152 3.0 1.2
153 1.5 1.0
154 2.5 1.0
155 2.0 1.2
156 3.0 1.2
157 3.5 1.2
158 4.0 1.5
159 4.0 1.2
160 5.0 1.8
161 5.0 1.5
162 6.0 1.8
163 6.0 1.8
164 7.0 2.5
165 7.0 2.5
166 12 3.5
167 55.5 10.1
168 8.0 2.5
169 5.0 2.0
170 4.0 3.9
nan nan nan
178 1.5 1.0
179 1.2 1.0
180 1.5 1.0
nan nan nan
190 9.0 8.9
nan nan nan
192 1.2 0.4
193 1.5 0.6
194 5.0 2.0
195 14 13
196 21 18.4
nan nan nan
207 1.2 1.0
208 1.2 1.0
209 1.2 1.0
210 1.0 0.8
}\lfive

\pgfplotsset{
  lv1/.style={c1, mark=*, mark size=2pt, line width=0.9pt, mark options={solid}},
  lv2/.style={c2, mark=*, mark size=2pt, line width=0.9pt, mark options={solid}},
  lv3/.style={c3, mark=*, mark size=2pt, line width=0.9pt, mark options={solid}},
  lv4/.style={c4, mark=*, mark size=2pt, line width=0.9pt, mark options={solid}},
  lv5/.style={c5, mark=*, mark size=2pt, line width=0.9pt, mark options={solid}},
  panel/.style={
    anchor=north west, width=837pt, height=61.7pt, scale only axis,
    xmin=-9.75, xmax=221.4,
    xtick={0,30,61,91,122,153,181,212}, xticklabels={},
    axis line style={bordergray, line width=0.6pt},
    major tick length=4pt, tick align=outside,
    xtick pos=bottom, ytick pos=left,
    xtick style={draw=none},
    ytick style={draw=bordergray, line width=0.6pt},
    xmajorgrids, ymajorgrids,
    major grid style={color=black!6, line width=0.5pt},
    /pgf/number format/assume math mode=true,
    yticklabel style={font=\fs{16}, text=ticktext},
    xticklabel style={font=\fs{16}, text=ticktext},
    unbounded coords=jump, clip=true,
  },
}
\newcommand\drawpanel[1]{%
  \addplot[fill=leftgray, draw=none, forget plot] coordinates {(-20,-100) (-20,100) (1.2,100) (1.2,-100)};
  \addplot[fill=bandgray, draw=none, forget plot] table[x=x,y=y] {\bandtab};
  \addplot[lv1] table[x=d,y=#1] {\redtab};
  \addplot[lv2] table[x=d,y=#1] {\ltwo};
  \addplot[lv3] table[x=d,y=#1] {\lthree};
  \addplot[lv4] table[x=d,y=#1] {\lfour};
}

\begin{document}
\begin{tikzpicture}
\path[use as bounding box] (0,0) rectangle (1022pt,-744pt);

\begin{axis}[panel, name=p1, at={(78pt,-45.7pt)}, ymin=-3, ymax=58, ytick={0,20,40},
  legend entries={1,2,3,4,5},
  legend style={at={(1.0657,-3.59)}, anchor=north west, draw=none, fill=none,
    font=\fs{16}, row sep=7.9pt, inner sep=0pt,
    nodes={inner sep=2pt, text height=10pt, text depth=0pt}},
  legend cell align=left,
  legend image code/.code={\draw[mark repeat=2, mark phase=2, line width=0.7pt, mark size=1.7pt] plot coordinates {(0pt,0pt) (7.5pt,0pt) (15pt,0pt)};}]
\drawpanel{A}
\addplot[lv5] table[x=d,y=A] {\lfive};
\end{axis}

\begin{axis}[panel, name=p2, at={(78pt,-118.74pt)}, ymin=-1.1, ymax=19.0, ytick={0,5,10,15}]
\drawpanel{B}
\addplot[lv5] table[x=d,y=B] {\lfive};
\end{axis}

\begin{axis}[panel, name=p3, at={(78pt,-191.78pt)}, ymin=-0.52, ymax=7.65, ytick={0,2,4,6}]
\drawpanel{C}
\end{axis}

\begin{axis}[panel, name=p4, at={(78pt,-264.82pt)}, ymin=-0.25, ymax=5.67, ytick={0,2,4}]
\drawpanel{D}
\end{axis}

\begin{axis}[panel, name=p5, at={(78pt,-337.86pt)}, ymin=-0.34, ymax=6.88, ytick={0,2,4,6}]
\drawpanel{E}
\end{axis}

\begin{axis}[panel, name=p6, at={(78pt,-410.9pt)}, ymin=-0.52, ymax=7.73, ytick={0,2,4,6}]
\drawpanel{F}
\end{axis}

\begin{axis}[panel, name=p7, at={(78pt,-483.94pt)}, ymin=-0.25, ymax=3.30, ytick={0,1,2,3}]
\drawpanel{G}
\end{axis}

\begin{axis}[panel, name=p8, at={(78pt,-556.98pt)}, ymin=-0.36, ymax=4.78, ytick={0,1,2,3,4},
  yticklabel style={font=\fs{14}, text=ticktext}]
\drawpanel{H}
\end{axis}

\begin{axis}[panel, name=p9, at={(78pt,-630.02pt)}, ymin=-0.34, ymax=7.49, ytick={0,2,4,6},
  xticklabels={Sep,Oct,Nov,Dec,Jan,Feb,Mar,Apr},
  xtick style={draw=bordergray, line width=0.6pt}]
\drawpanel{I}
\end{axis}

\foreach \n/\lab in {p1/BEFRA,p2/BENAN,p3/BBCOT,p4/BBHAS,p5/MVLOE,p6/UBNEU,p7/SNBRO,p8/SNNIE,p9/SNMEL}{
  \draw[fill=stripgray, draw=bordergray, line width=0.6pt] (\n.north east) rectangle ([xshift=31.7pt]\n.south east);
  \node[rotate=-90, font=\fs{16}, text=black!85] at ([xshift=15.85pt]\n.east) {\lab};
}

\node[font=\fs{24}] at (496.5pt,-18pt) {Salz (frisch)};
\node[font=\fs{20}] at (496.5pt,-733pt) {Datum};
\node[font=\fs{20}, rotate=90] at (25pt,-368.7pt) {Quellbeitrag / µg m\raisebox{0.8ex}{\fs{14}−3}};
\node[font=\fs{20}, anchor=west] at (967pt,-313pt) {Level};
\end{tikzpicture}
\end{document}
